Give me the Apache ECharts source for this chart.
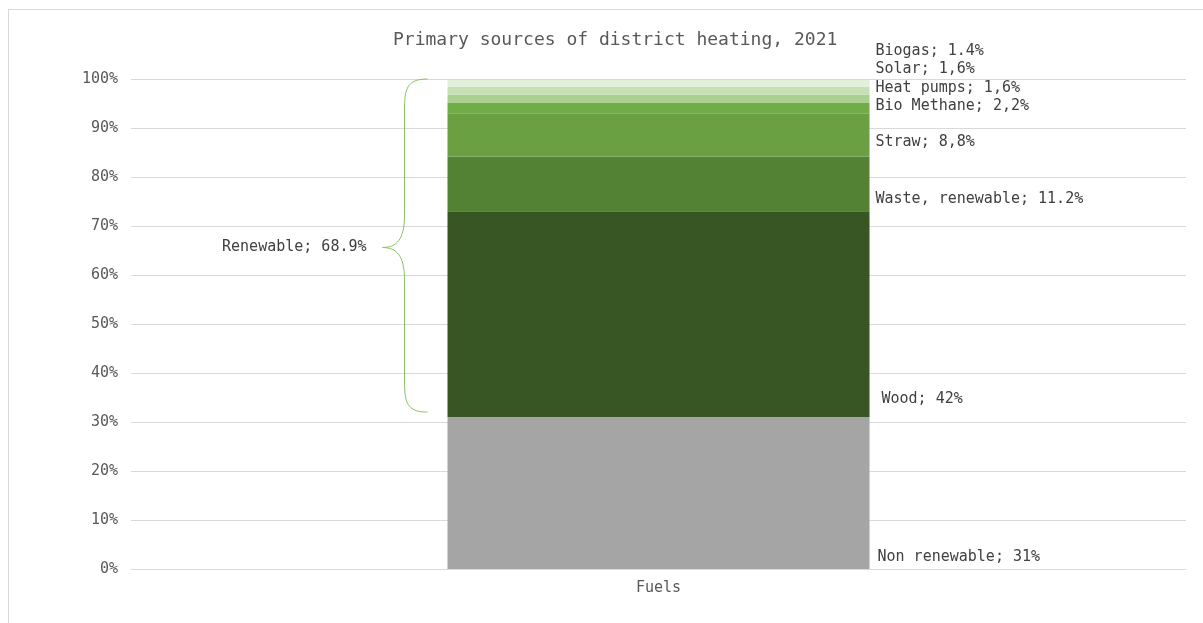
<!DOCTYPE html>
<html>
<head>
<meta charset="utf-8">
<script src="https://cdn.jsdelivr.net/npm/echarts@6/dist/echarts.min.js"></script>
<style>
  html, body { margin: 0; padding: 0; background: #fff; }
  #main { width: 1203px; height: 623px; position: relative; }
  .frame { position: absolute; left: 8px; top: 9px; width: 1195px; height: 614px;
           border-left: 1px solid #d9d9d9; border-top: 1px solid #d9d9d9; pointer-events: none; }
</style>
</head>
<body>
<div id="main"></div>
<div class="frame"></div>
<script>
  // data
  var categories = ['Fuels']
  var sourceNames = ['Non renewable', 'Wood', 'Waste, renewable', 'Straw', 'Bio Methane', 'Heat pumps', 'Solar', 'Biogas']
  var sourceShares = [31, 42, 11.2, 8.8, 2.2, 1.6, 1.6, 1.4]
  var labelTexts = ['Non renewable; 31%', 'Wood; 42%', 'Waste, renewable; 11.2%', 'Straw; 8,8%',
    'Bio Methane; 2,2%', 'Heat pumps; 1,6%', 'Solar; 1,6%', 'Biogas; 1.4%']
  var renewableRange = [31, 100]
  var renewableLabel = 'Renewable; 68.9%'

  var colors = ['#a5a5a5', '#375623', '#548235', '#6a9f42', '#70ad47', '#a9d08e', '#c6e0b4', '#e2efda']
  // label offsets (px) from the bottom right corner of each segment
  var labelOffsets = [[8, -4], [12, -10], [6, -5], [6, -7], [6, 0], [6, -7], [6, -18], [6, -28]]

  var font = '"DejaVu Sans Mono", "Liberation Mono", monospace'
  var chart = echarts.init(document.getElementById('main'))

  var series = sourceNames.map(function (name, i) {
    return {
      name: name,
      type: 'bar',
      stack: 'total',
      barWidth: '40%',
      itemStyle: { color: colors[i] },
      label: {
        show: true,
        position: ['100%', '100%'],
        align: 'left',
        verticalAlign: 'bottom',
        offset: labelOffsets[i],
        formatter: labelTexts[i],
        color: '#404040',
        fontFamily: font,
        fontSize: 15
      },
      data: [sourceShares[i]]
    }
  })

  // curly brace for the renewable part
  series.push({
    type: 'custom',
    silent: true,
    renderItem: function (params, api) {
      var top = api.coord([0, renewableRange[1]])
      var bot = api.coord([0, renewableRange[0]])
      var barLeft = top[0] - api.size([1, 0])[0] * 0.4 / 2
      var xEnd = barLeft - 20, xLine = barLeft - 43, xTip = barLeft - 65
      var yTop = top[1], yBot = bot[1] - 5, yMid = (yTop + yBot) / 2 + 2
      var r = 32
      var d = 'M' + xEnd + ',' + yTop +
        ' C' + (xLine + 2) + ',' + yTop + ' ' + xLine + ',' + (yTop + 10) + ' ' + xLine + ',' + (yTop + r) +
        ' L' + xLine + ',' + (yMid - r) +
        ' C' + xLine + ',' + (yMid - 8) + ' ' + (xLine - 8) + ',' + yMid + ' ' + xTip + ',' + yMid +
        ' C' + (xLine - 8) + ',' + yMid + ' ' + xLine + ',' + (yMid + 8) + ' ' + xLine + ',' + (yMid + r) +
        ' L' + xLine + ',' + (yBot - r) +
        ' C' + xLine + ',' + (yBot - 10) + ' ' + (xLine + 2) + ',' + yBot + ' ' + xEnd + ',' + yBot
      return {
        type: 'group',
        children: [
          { type: 'path', shape: { pathData: d }, style: { fill: null, stroke: '#8cc063', lineWidth: 1 } },
          { type: 'text', x: xTip - 16, y: yMid,
            style: { text: renewableLabel, align: 'right', verticalAlign: 'middle',
              fill: '#404040', font: '15px ' + font } }
        ]
      }
    },
    data: [[0, renewableRange[0], renewableRange[1]]],
    z: 5
  })

  var option = {
    animation: false,
    title: {
      text: 'Primary sources of district heating, 2021',
      left: 388,
      top: 26,
      textStyle: { fontFamily: font, fontSize: 18, fontWeight: 'normal', color: '#595959' }
    },
    grid: { left: 131, right: 17, top: 79, bottom: 54 },
    xAxis: {
      type: 'category',
      data: categories,
      axisTick: { show: false },
      axisLine: { lineStyle: { color: '#d9d9d9' } },
      axisLabel: { color: '#595959', fontFamily: font, fontSize: 15, margin: 12 }
    },
    yAxis: {
      type: 'value',
      min: 0,
      max: 100,
      interval: 10,
      axisLine: { show: false },
      axisTick: { show: false },
      axisLabel: { formatter: '{value}%', color: '#595959', fontFamily: font, fontSize: 15, margin: 13 },
      splitLine: { lineStyle: { color: '#d9d9d9' } }
    },
    series: series
  }
  chart.setOption(option)
</script>
</body>
</html>
